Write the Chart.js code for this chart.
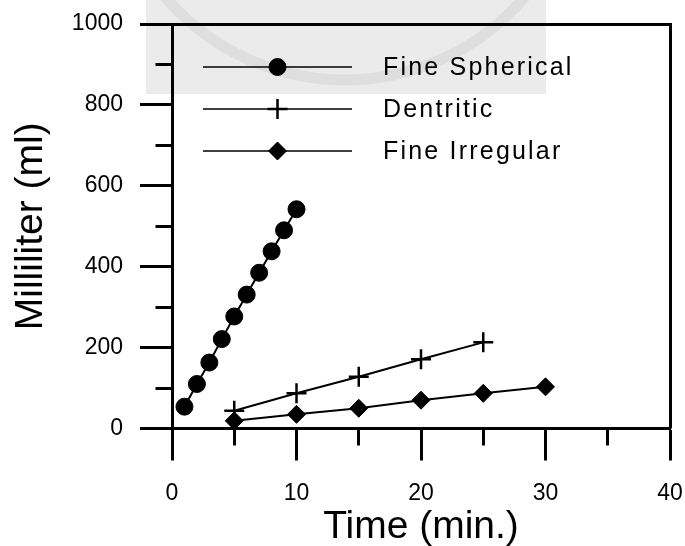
<!DOCTYPE html>
<html>
<head>
<meta charset="utf-8">
<script src="https://cdn.jsdelivr.net/npm/chart.js@4.4.1/dist/chart.umd.min.js"></script>
<style>
html,body{margin:0;padding:0;background:#fff;}
canvas{display:block;}
</style>
</head>
<body>
<canvas id="c" width="685" height="546"></canvas>
<script>
// ---- data ----
const timeSpherical = [1, 2, 3, 4, 5, 6, 7, 8, 9, 10];
const fineSpherical = [54, 110, 163, 221, 277, 331, 385, 438, 490, 542];
const timeDentritic = [5, 10, 15, 20, 25];
const dentritic = [44, 87, 128, 171, 213];
const timeIrregular = [5, 10, 15, 20, 25, 30];
const fineIrregular = [19, 35, 50, 70, 87, 103];
const seriesNames = ['Fine Spherical', 'Dentritic', 'Fine Irregular'];
const xTickLabels = [0, 10, 20, 30, 40];
const yTickLabels = [0, 200, 400, 600, 800, 1000];
const xTitle = 'Time (min.)';
const yTitle = 'Milliliter (ml)';

const FONT = '"Liberation Sans", Arial, Helvetica, sans-serif';
Chart.defaults.font.family = FONT;
Chart.defaults.color = '#000';

function pts(xs, ys) { return xs.map((v, i) => ({x: v, y: ys[i]})); }

const bgPlugin = {
  id: 'bg',
  beforeDraw(chart) {
    const ctx = chart.ctx;
    ctx.save();
    ctx.fillStyle = '#fff';
    ctx.fillRect(0, 0, chart.width, chart.height);
    // faint scanned watermark block
    ctx.fillStyle = '#ebebeb';
    ctx.fillRect(146, 0, 400, 94);
    ctx.beginPath();
    ctx.rect(146, 0, 400, 94);
    ctx.clip();
    ctx.strokeStyle = '#dedede';
    ctx.lineWidth = 11;
    ctx.beginPath();
    ctx.arc(345, -156, 236, 0, Math.PI * 2);
    ctx.stroke();
    ctx.restore();
  }
};

function al(v) { return Math.round(v - 1.5) + 1.5; }

const framePlugin = {
  id: 'frame',
  afterDraw(chart) {
    const {ctx, chartArea: a, scales} = chart;
    const sx = scales.x, sy = scales.y;
    ctx.save();
    ctx.strokeStyle = '#000';
    ctx.lineWidth = 3;
    ctx.lineCap = 'butt';
    const t = al(a.top), r = al(a.right), l = al(a.left), b = al(a.bottom);
    ctx.beginPath();
    ctx.moveTo(l, t); ctx.lineTo(r + 1.5, t);
    ctx.moveTo(r, t); ctx.lineTo(r, b);
    ctx.stroke();
    // minor ticks
    ctx.beginPath();
    sx.ticks.forEach(tk => {
      if (xTickLabels.includes(tk.value)) return;
      const px = al(sx.getPixelForValue(tk.value));
      ctx.moveTo(px, b); ctx.lineTo(px, b + 17);
    });
    sy.ticks.forEach(tk => {
      if (yTickLabels.includes(tk.value)) return;
      const py = al(sy.getPixelForValue(tk.value));
      ctx.moveTo(l - 17, py); ctx.lineTo(l, py);
    });
    ctx.stroke();
    ctx.restore();
  }
};

function drawMarker(ctx, ds, x, y) {
  const opts = {pointStyle: ds.pointStyle, radius: ds.pointRadius, borderWidth: ds.pointBorderWidth, rotation: 0};
  ctx.save();
  ctx.fillStyle = ds.pointBackgroundColor;
  ctx.strokeStyle = ds.pointBorderColor;
  ctx.lineWidth = ds.pointBorderWidth;
  if (Chart.helpers && Chart.helpers.drawPoint) {
    Chart.helpers.drawPoint(ctx, opts, x, y);
  } else {
    const r = ds.pointRadius;
    ctx.beginPath();
    if (ds.pointStyle === 'circle') { ctx.arc(x, y, r, 0, Math.PI * 2); ctx.fill(); ctx.stroke(); }
    else if (ds.pointStyle === 'cross') { ctx.moveTo(x - r, y); ctx.lineTo(x + r, y); ctx.moveTo(x, y - r); ctx.lineTo(x, y + r); ctx.stroke(); }
    else { ctx.moveTo(x - r, y); ctx.lineTo(x, y - r); ctx.lineTo(x + r, y); ctx.lineTo(x, y + r); ctx.closePath(); ctx.fill(); ctx.stroke(); }
  }
  ctx.restore();
}

const legendPlugin = {
  id: 'innerLegend',
  afterDatasetsDraw(chart) {
    const {ctx, chartArea: a} = chart;
    ctx.save();
    chart.data.datasets.forEach((ds, i) => {
      const y = a.top + 43 + i * 42;
      const x0 = a.left + 31, x1 = a.left + 180, xm = a.left + 105.5;
      ctx.strokeStyle = '#000';
      ctx.lineWidth = 1.6;
      ctx.beginPath();
      ctx.moveTo(x0, y); ctx.lineTo(x1, y);
      ctx.stroke();
      drawMarker(ctx, ds, xm, y);
      ctx.fillStyle = '#000';
      ctx.font = '25px ' + FONT;
      ctx.textBaseline = 'middle';
      ctx.textAlign = 'left';
      try { ctx.letterSpacing = '2.2px'; } catch (e) {}
      ctx.fillText(ds.label, a.left + 211, y + 1);
      try { ctx.letterSpacing = '0px'; } catch (e) {}
    });
    ctx.restore();
  }
};

const common = {
  borderColor: '#000',
  borderWidth: 2,
  pointBackgroundColor: '#000',
  pointBorderColor: '#000',
  tension: 0,
  fill: false
};

new Chart(document.getElementById('c'), {
  type: 'line',
  data: {
    datasets: [
      Object.assign({}, common, {label: seriesNames[0], data: pts(timeSpherical, fineSpherical), pointStyle: 'circle', pointRadius: 8.5, pointBorderWidth: 1}),
      Object.assign({}, common, {label: seriesNames[1], data: pts(timeDentritic, dentritic), pointStyle: 'cross', pointRadius: 10, pointBorderWidth: 2.5}),
      Object.assign({}, common, {label: seriesNames[2], data: pts(timeIrregular, fineIrregular), pointStyle: 'rectRot', pointRadius: 9, pointBorderWidth: 1})
    ]
  },
  options: {
    responsive: false,
    animation: false,
    devicePixelRatio: 1,
    layout: {padding: 0},
    plugins: {legend: {display: false}, tooltip: {enabled: false}},
    scales: {
      x: {
        type: 'linear', position: 'bottom', min: 0, max: 40,
        afterFit(s) { s.height = 117.5; s.paddingLeft = 0; s.paddingRight = 15; },
        ticks: {
          stepSize: 5, autoSkip: false, maxRotation: 0, padding: 19,
          font: {size: 23},
          callback: v => xTickLabels.includes(v) ? String(v) : ''
        },
        grid: {
          drawOnChartArea: false, drawTicks: true, tickLength: 32, tickWidth: 3,
          tickColor: c => (c.tick && xTickLabels.includes(c.tick.value)) ? '#000' : 'rgba(0,0,0,0)'
        },
        border: {display: true, color: '#000', width: 3},
        title: {display: true, text: xTitle, font: {size: 39, lineHeight: 0.95}, padding: {top: 0, bottom: 0}, color: '#000'}
      },
      y: {
        type: 'linear', position: 'left', min: 0, max: 1000,
        afterFit(s) { s.width = 172; s.paddingTop = 24; s.paddingBottom = 0; },
        ticks: {
          stepSize: 100, autoSkip: false, padding: 17,
          font: {size: 23},
          callback: v => yTickLabels.includes(v) ? String(v) : ''
        },
        grid: {
          drawOnChartArea: false, drawTicks: true, tickLength: 32, tickWidth: 3,
          tickColor: c => (c.tick && yTickLabels.includes(c.tick.value)) ? '#000' : 'rgba(0,0,0,0)'
        },
        border: {display: true, color: '#000', width: 3},
        title: {display: true, text: yTitle, font: {size: 39, lineHeight: 1.2}, padding: {top: 8, bottom: 0}, color: '#000'}
      }
    }
  },
  plugins: [bgPlugin, framePlugin, legendPlugin]
});
</script>
</body>
</html>
